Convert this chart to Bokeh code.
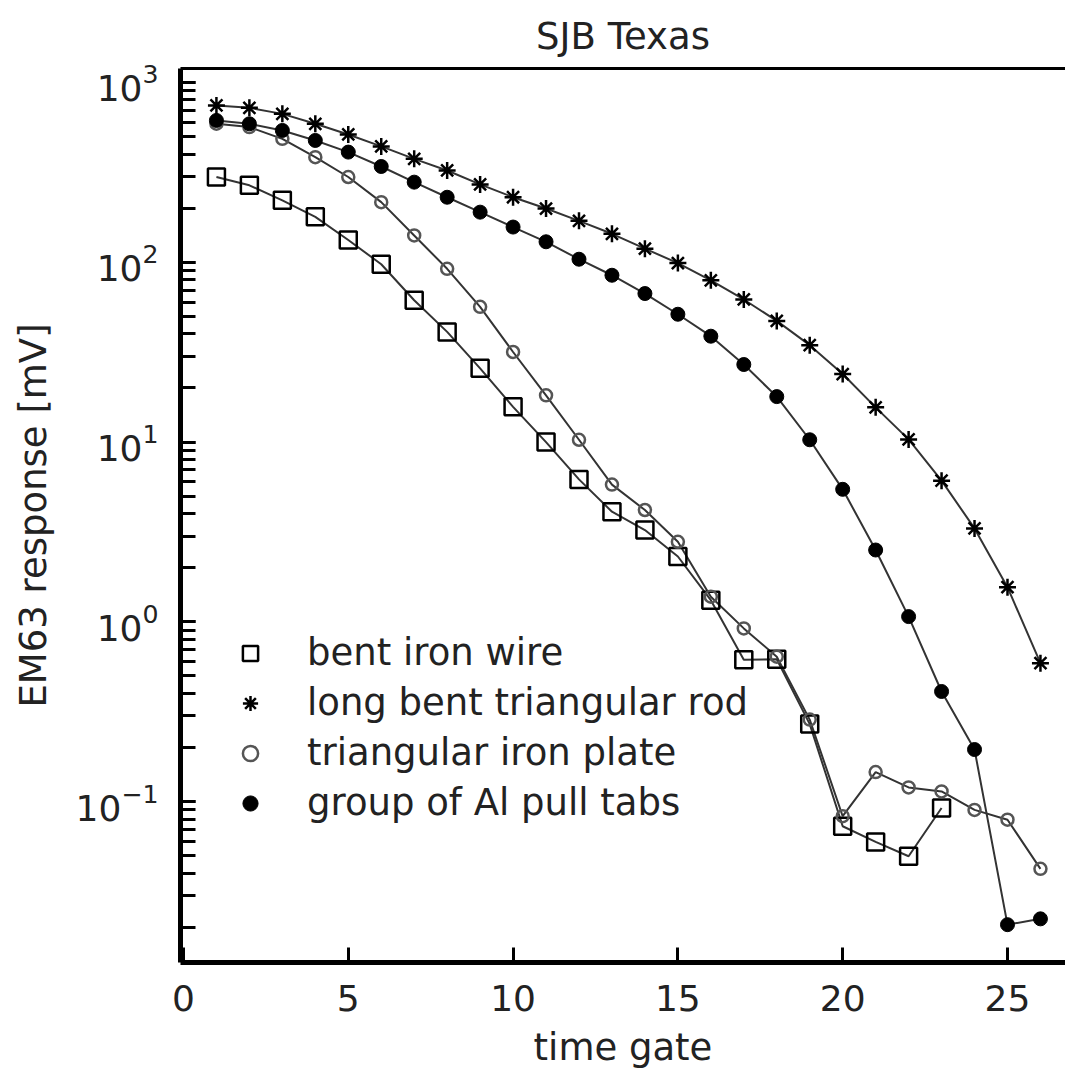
from bokeh.plotting import figure
from bokeh.models import Legend, LegendItem, LinearAxis, FixedTicker, Range1d
from bokeh.embed import file_html
from bokeh.resources import INLINE

# ---- data ----
gate_wire = list(range(1, 24))
bent_iron_wire = [298, 268, 221, 179, 133, 97.5, 61.5, 41, 25.7, 15.7, 10.0, 6.2,
                  4.1, 3.24, 2.31, 1.32, 0.615, 0.62, 0.27, 0.073, 0.0597, 0.0497, 0.0922]

gate_rod = list(range(1, 27))
long_bent_rod = [745, 723, 669, 589, 514, 441, 376, 324, 271, 230, 199, 170, 144,
                 119, 99, 79.4, 62.1, 47.2, 34.6, 23.9, 15.6, 10.35, 6.1, 3.31, 1.56, 0.589]

gate_plate = list(range(1, 27))
tri_iron_plate = [590, 565, 486, 384, 298, 216, 141, 92, 56.5, 31.7, 18.2, 10.3, 5.8,
                  4.19, 2.79, 1.38, 0.92, 0.64, 0.286, 0.083, 0.146, 0.12, 0.114, 0.09, 0.0794, 0.0423]

gate_tabs = list(range(1, 27))
al_pull_tabs = [615, 589, 541, 476, 410, 341, 279, 230, 190, 157, 130, 104, 84.7,
                67, 51.4, 38.8, 27, 17.9, 10.3, 5.46, 2.51, 1.07, 0.41, 0.195, 0.0207, 0.0223]

labels = ["bent iron wire", "long bent triangular rod", "triangular iron plate", "group of Al pull tabs"]
x_ticks = [0, 5, 10, 15, 20, 25]

FONT = "DejaVu Sans"
FS = "37px"
TXT = "#222222"

p = figure(width=1065, height=1071, y_axis_type="log",
           x_range=Range1d(-0.09, 26.76), y_range=Range1d(0.01275, 1196),
           output_backend="svg", toolbar_location=None,
           min_border_left=180, min_border_right=0, min_border_top=68, min_border_bottom=108,
           title="SJB Texas")
p.outline_line_color = None
p.grid.visible = False
p.background_fill_color = "white"

p.title.align = "center"
p.title.text_font = FONT
p.title.text_font_size = FS
p.title.text_font_style = "normal"
p.title.text_color = TXT
p.title.standoff = 22

# axes styling
for ax in (p.xaxis[0], p.yaxis[0]):
    ax.axis_line_width = 5
    ax.axis_line_color = "black"
    ax.major_tick_in = 15
    ax.major_tick_out = 0
    ax.minor_tick_in = 15
    ax.minor_tick_out = 0
    ax.major_tick_line_width = 3
    ax.minor_tick_line_width = 3
    ax.major_tick_line_color = "black"
    ax.minor_tick_line_color = "black"
    ax.major_label_text_font = FONT
    ax.major_label_text_font_size = "36px"
    ax.major_label_text_color = TXT
    ax.axis_label_text_font = FONT
    ax.axis_label_text_font_size = FS
    ax.axis_label_text_font_style = "normal"
    ax.axis_label_text_color = TXT

p.xaxis.ticker = FixedTicker(ticks=x_ticks)
p.xaxis.minor_tick_line_color = None
p.xaxis.major_label_standoff = 22
p.xaxis.axis_label = "time gate"
p.xaxis.axis_label_standoff = 12

p.yaxis.major_label_standoff = 22
p.yaxis.axis_label = "EM63 response [mV]"
p.yaxis.axis_label_standoff = 18

top = LinearAxis(ticker=FixedTicker(ticks=[]), major_label_text_font_size="0px",
                 major_tick_line_color=None, minor_tick_line_color=None,
                 axis_line_width=3, axis_line_color="black")
p.add_layout(top, "above")

LC = "#333333"
LW = 2

p.line(gate_wire, bent_iron_wire, line_color=LC, line_width=LW)
p.line(gate_rod, long_bent_rod, line_color=LC, line_width=LW)
p.line(gate_plate, tri_iron_plate, line_color=LC, line_width=LW)
p.line(gate_tabs, al_pull_tabs, line_color=LC, line_width=LW)

r_sq = p.scatter(gate_wire, bent_iron_wire, marker="square", size=17,
                 fill_color=None, line_color="black", line_width=2.5)
r_st = p.scatter(gate_rod, long_bent_rod, marker="asterisk", size=17,
                 line_color="black", line_width=2.5)
r_oc = p.scatter(gate_plate, tri_iron_plate, marker="circle", size=12,
                 fill_color=None, line_color="#555555", line_width=2.5)
r_fc = p.scatter(gate_tabs, al_pull_tabs, marker="circle", size=14,
                 fill_color="black", line_color="black", line_width=1)

legend = Legend(items=[LegendItem(label=labels[0], renderers=[r_sq]),
                       LegendItem(label=labels[1], renderers=[r_st]),
                       LegendItem(label=labels[2], renderers=[r_oc]),
                       LegendItem(label=labels[3], renderers=[r_fc])],
                location=(51, 138))
legend.border_line_color = None
legend.background_fill_alpha = 0
legend.padding = 0
legend.margin = 0
legend.spacing = 7
legend.glyph_width = 38
legend.glyph_height = 38
legend.label_standoff = 38
legend.label_text_font = FONT
legend.label_text_font_size = FS
legend.label_text_color = TXT
p.add_layout(legend, "center")

open("out.html", "w").write(file_html(p, INLINE))
